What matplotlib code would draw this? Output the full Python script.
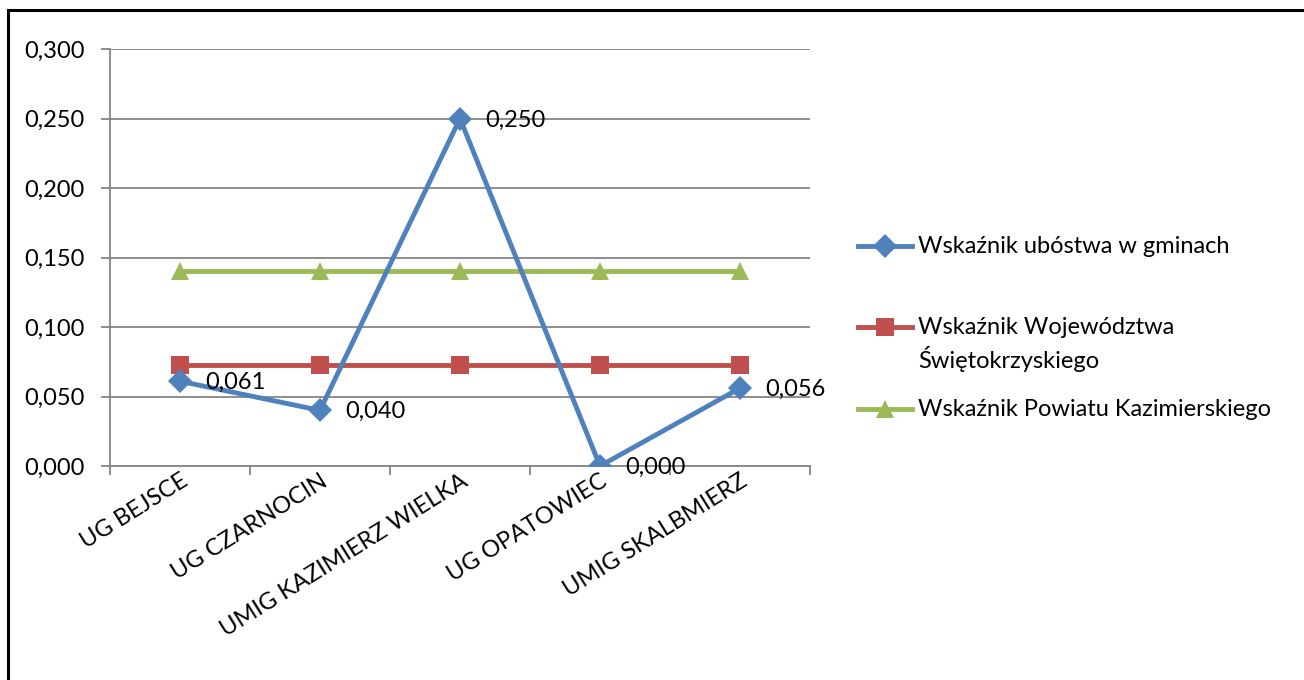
import numpy as np
import matplotlib.pyplot as plt
from matplotlib.lines import Line2D

plt.rcParams['font.family'] = ['Lato', 'DejaVu Sans']

# data
gminy = ['UG BEJSCE', 'UG CZARNOCIN', 'UMIG KAZIMIERZ WIELKA', 'UG OPATOWIEC', 'UMIG SKALBMIERZ']
wsk_gminy = [0.061, 0.040, 0.250, 0.000, 0.056]
wsk_woj = [0.073, 0.073, 0.073, 0.073, 0.073]
wsk_powiat = [0.140, 0.140, 0.140, 0.140, 0.140]
yticks = [0.0, 0.05, 0.10, 0.15, 0.20, 0.25, 0.30]

labels = ['Wskaźnik ubóstwa w gminach',
          'Wskaźnik Województwa\nŚwiętokrzyskiego',
          'Wskaźnik Powiatu Kazimierskiego']

BLUE = '#4F81BD'
RED = '#C0504D'
GREEN = '#9BBB59'
GRID = '#868686'
FS = 17

W, H = 1304, 680
fig = plt.figure(figsize=(W / 100, H / 100), dpi=100)
ax = fig.add_axes([110 / W, 1 - 466 / H, 700 / W, 417 / H])

x = np.arange(len(gminy))
styles = [
    (wsk_gminy, BLUE, 'D', 12),
    (wsk_woj, RED, 's', 13),
    (wsk_powiat, GREEN, '^', 13),
]
# draw order like excel: powiat and woj first, gminy on top
for vals, col, mk, ms in styles[::-1]:
    ax.plot(x, vals, color=col, lw=3.5, marker=mk, markersize=ms,
            markeredgewidth=0, zorder=3)

for xi, v in zip(x, wsk_gminy):
    ax.annotate(f'{v:.3f}'.replace('.', ','), (xi, v), xytext=(18, -1),
                textcoords='offset points', ha='left', va='center',
                fontsize=FS, zorder=5)

ax.set_xlim(-0.5, len(gminy) - 0.5)
ax.set_ylim(0, 0.30)
ax.set_yticks(yticks)
ax.set_yticklabels([f'{t:.3f}'.replace('.', ',') for t in yticks], fontsize=FS)
ax.yaxis.grid(True, color=GRID, lw=1.3)
ax.set_axisbelow(True)

ax.set_xticks(np.arange(-0.5, len(gminy), 1.0), minor=False)
ax.set_xticklabels([])
ax.set_xticks(x, minor=True)
ax.set_xticklabels(gminy, minor=True, rotation=32, ha='right',
                   rotation_mode='anchor', fontsize=FS)
ax.tick_params(axis='x', which='minor', length=0, pad=3)
ax.tick_params(axis='x', which='major', length=6.5, color=GRID, width=1.3)
ax.tick_params(axis='y', length=6.5, color=GRID, width=1.3, pad=12)

for s in ['top', 'right']:
    ax.spines[s].set_visible(False)
for s in ['left', 'bottom']:
    ax.spines[s].set_color(GRID)
    ax.spines[s].set_linewidth(1.3)

# legend drawn by hand so the markers sit on the first text line
leg_y = [246, 327, 409]
for (vals, col, mk, ms), lab, ly in zip(styles, labels, leg_y):
    yf = 1 - ly / H
    fig.add_artist(Line2D([858 / W, 912 / W], [yf, yf], color=col, lw=3.5))
    fig.add_artist(Line2D([885 / W], [yf], color=col, marker=mk, markersize=ms,
                          markeredgewidth=0))
    fig.text(918 / W, yf, lab.split('\n')[0], ha='left', va='center', fontsize=FS)
    if '\n' in lab:
        fig.text(918 / W, yf - 32 / H, lab.split('\n')[1], ha='left',
                 va='center', fontsize=FS)

# frame around the chart area (right/bottom cut off in the original)
fig.add_artist(Line2D([7.5 / W, 1], [1 - 10 / H, 1 - 10 / H], color='black', lw=2.2))
fig.add_artist(Line2D([7.5 / W, 7.5 / W], [0, 1 - 10 / H], color='black', lw=2.2))

fig.savefig('out.png', dpi=100)
